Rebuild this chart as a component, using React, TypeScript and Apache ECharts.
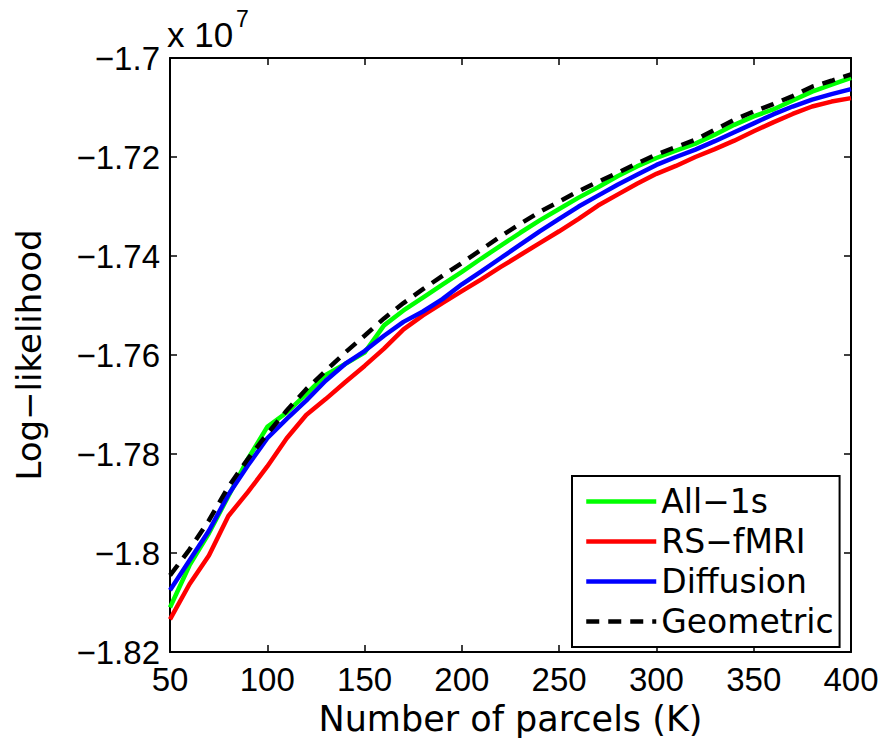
import React, { useEffect, useRef } from "react";
import * as echarts from "echarts";

const parcels = [50, 60, 70, 80, 90, 100, 110, 120, 130, 140, 150, 160, 170, 180, 190, 200, 210, 220, 230, 240, 250, 260, 270, 280, 290, 300, 310, 320, 330, 340, 350, 360, 370, 380, 390, 400];

// log-likelihood values in units of 1e7
const all1s = [-1.8110, -1.8025, -1.7960, -1.7885, -1.7810, -1.7745, -1.7716, -1.7679, -1.7640, -1.7618, -1.7595, -1.7540, -1.7510, -1.7484, -1.7458, -1.7432, -1.7405, -1.7379, -1.7353, -1.7328, -1.7305, -1.7282, -1.7261, -1.7239, -1.7219, -1.7202, -1.7187, -1.7173, -1.7155, -1.7135, -1.7118, -1.7104, -1.7086, -1.7068, -1.7054, -1.7040];
const rsfmri = [-1.8134, -1.8063, -1.8005, -1.7925, -1.7877, -1.7825, -1.7768, -1.7721, -1.7689, -1.7655, -1.7622, -1.7587, -1.7548, -1.7520, -1.7495, -1.7471, -1.7447, -1.7422, -1.7398, -1.7374, -1.7350, -1.7325, -1.7298, -1.7276, -1.7254, -1.7234, -1.7218, -1.7200, -1.7184, -1.7167, -1.7148, -1.7130, -1.7113, -1.7098, -1.7088, -1.7081];
const diffusion = [-1.8075, -1.8015, -1.7955, -1.7882, -1.7823, -1.7768, -1.7729, -1.7692, -1.7652, -1.7618, -1.7592, -1.7561, -1.7533, -1.7512, -1.7487, -1.7457, -1.7431, -1.7404, -1.7377, -1.7350, -1.7325, -1.7300, -1.7278, -1.7256, -1.7236, -1.7216, -1.7200, -1.7185, -1.7168, -1.7150, -1.7132, -1.7114, -1.7098, -1.7084, -1.7073, -1.7063];
const geometric = [-1.8045, -1.7993, -1.7934, -1.7866, -1.7810, -1.7759, -1.7712, -1.7669, -1.7632, -1.7595, -1.7561, -1.7526, -1.7495, -1.7467, -1.7440, -1.7414, -1.7387, -1.7360, -1.7335, -1.7311, -1.7290, -1.7269, -1.7250, -1.7232, -1.7213, -1.7195, -1.7180, -1.7165, -1.7145, -1.7125, -1.7108, -1.7093, -1.7077, -1.7058, -1.7046, -1.7033];

const seriesNames = ["All\u22121s", "RS\u2212fMRI", "Diffusion", "Geometric"];
const seriesColors = ["#00ff00", "#ff0000", "#0000ff", "#000000"];

const xTitle = "Number of parcels (K)";
const yTitle = "Log\u2212likelihood";

const tickFont = "Liberation Sans";
const titleFont = "DejaVu Sans";

function fmtY(v: number) {
  const r = Math.round(v * 100) / 100;
  return String(r).replace("-", "\u2212");
}

export default function App() {
  const ref = useRef<HTMLDivElement>(null);
  useEffect(() => {
    document.body.style.margin = "0";
    if (!ref.current) return;
    const chart = echarts.init(ref.current, undefined, { renderer: "svg" });
    const dataSets = [all1s, rsfmri, diffusion, geometric];
    const series = dataSets.map((d, i) => ({
      name: seriesNames[i],
      type: "line",
      data: parcels.map((k, j) => [k, d[j]]),
      symbol: "none",
      showSymbol: false,
      lineStyle: {
        color: seriesColors[i],
        width: 4.5,
        type: i === 3 ? [13, 9] : "solid",
      },
      itemStyle: { color: seriesColors[i] },
      z: 2 + i,
    }));
    const commonX = {
      type: "value",
      min: 50,
      max: 400,
      interval: 50,
      splitLine: { show: false },
      axisLine: { show: true, onZero: false, lineStyle: { color: "#000", width: 2 } },
      axisTick: { show: true, inside: true, length: 7, lineStyle: { color: "#000", width: 1.5 } },
    };
    const commonY = {
      type: "value",
      min: -1.82,
      max: -1.7,
      interval: 0.02,
      splitLine: { show: false },
      axisLine: { show: true, onZero: false, lineStyle: { color: "#000", width: 2 } },
      axisTick: { show: true, inside: true, length: 7, lineStyle: { color: "#000", width: 1.5 } },
    };
    chart.setOption({
      animation: false,
      backgroundColor: "#fff",
      grid: { left: 170, top: 58, right: 45, bottom: 87, containLabel: false },
      xAxis: [
        {
          ...commonX,
          position: "bottom",
          name: xTitle,
          nameLocation: "middle",
          nameGap: 43,
          nameTextStyle: { fontFamily: titleFont, fontSize: 35, color: "#000" },
          axisLabel: { show: true, margin: 11, fontFamily: tickFont, fontSize: 33, color: "#000" },
        },
        {
          ...commonX,
          position: "top",
          axisLabel: { show: false },
        },
      ],
      yAxis: [
        {
          ...commonY,
          position: "left",
          name: yTitle,
          nameLocation: "middle",
          nameGap: 124,
          nameTextStyle: { fontFamily: titleFont, fontSize: 34, color: "#000" },
          axisLabel: { show: true, margin: 10, fontFamily: tickFont, fontSize: 33, color: "#000", formatter: fmtY },
        },
        {
          ...commonY,
          position: "right",
          axisLabel: { show: false },
        },
      ],
      legend: {
        show: true,
        orient: "vertical",
        left: 572,
        top: 476,
        padding: [9, 6, 9, 12],
        itemWidth: 70,
        itemHeight: 14,
        itemGap: 7,
        borderColor: "#000",
        borderWidth: 2,
        backgroundColor: "#fff",
        itemStyle: { opacity: 0 },
        lineStyle: { width: 4.5 },
        textStyle: { fontFamily: titleFont, fontSize: 33, color: "#000", lineHeight: 33 },
        data: seriesNames,
      },
      graphic: [
        {
          type: "text",
          left: 167,
          top: 17,
          style: { text: "x 10", fontFamily: tickFont, fontSize: 35, fill: "#000" },
        },
        {
          type: "text",
          left: 236,
          top: 7,
          style: { text: "7", fontFamily: tickFont, fontSize: 23, fill: "#000" },
        },
      ],
      series,
    });
    return () => chart.dispose();
  }, []);
  return <div ref={ref} style={{ width: 896, height: 741 }} />;
}
